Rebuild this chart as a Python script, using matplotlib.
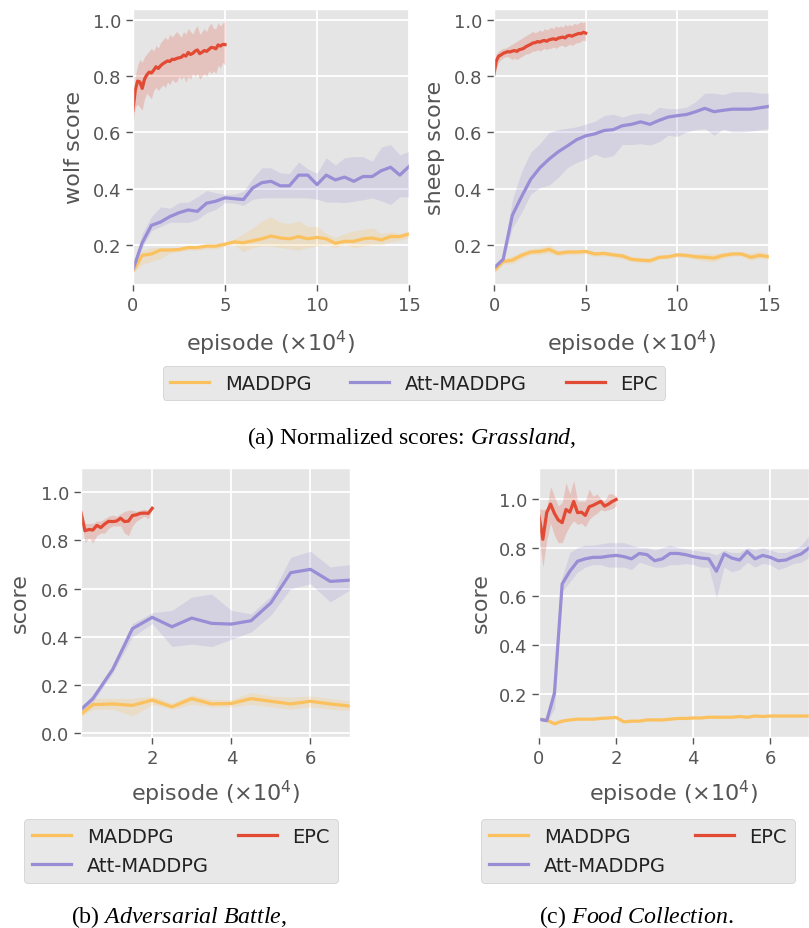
import numpy as np
import matplotlib
matplotlib.use("Agg")
import matplotlib.pyplot as plt

plt.style.use("ggplot")
plt.rcParams['font.family'] = ['DejaVu Sans']
plt.rcParams['mathtext.fontset'] = 'custom'
plt.rcParams['mathtext.rm'] = 'Liberation Serif'
plt.rcParams['mathtext.it'] = 'Liberation Serif:italic'

C_MADDPG = '#FBC15E'
C_ATT = '#988ED5'
C_EPC = '#E24A33'
labels = ['MADDPG', 'Att-MADDPG', 'EPC']

# ---------------- Grassland (wolf / sheep) ----------------
x_grass = np.linspace(0, 15, 31)
x_grass_epc = np.linspace(0, 5, 41)

wolf_att = [0.112, 0.207, 0.269, 0.281, 0.300, 0.314, 0.324, 0.319, 0.348, 0.355, 0.367, 0.364, 0.361,
            0.402, 0.421, 0.426, 0.410, 0.410, 0.448, 0.448, 0.414, 0.448, 0.431, 0.441, 0.426, 0.443,
            0.443, 0.464, 0.476, 0.448, 0.479]
wolf_att_hi = [0.12, 0.24, 0.30, 0.335, 0.33, 0.35, 0.352, 0.371, 0.393, 0.385, 0.38, 0.38, 0.39, 0.436,
               0.474, 0.474, 0.456, 0.454, 0.495, 0.47, 0.455, 0.51, 0.484, 0.51, 0.514, 0.514, 0.497,
               0.548, 0.557, 0.52, 0.533]
wolf_att_lo = [0.10, 0.19, 0.25, 0.265, 0.28, 0.28, 0.279, 0.29, 0.314, 0.326, 0.35, 0.348, 0.34, 0.362,
               0.367, 0.367, 0.367, 0.367, 0.367, 0.367, 0.362, 0.352, 0.352, 0.35, 0.355, 0.36, 0.367,
               0.356, 0.343, 0.371, 0.37]
wolf_mad = [0.105, 0.162, 0.167, 0.181, 0.181, 0.183, 0.19, 0.19, 0.195, 0.195, 0.202, 0.21, 0.207, 0.214,
            0.221, 0.231, 0.224, 0.221, 0.229, 0.221, 0.226, 0.221, 0.205, 0.212, 0.212, 0.221, 0.224,
            0.217, 0.229, 0.229, 0.238]
wolf_mad_hi = [0.11, 0.18, 0.19, 0.19, 0.19, 0.19, 0.195, 0.195, 0.2, 0.2, 0.21, 0.22, 0.24, 0.26, 0.285,
               0.299, 0.28, 0.275, 0.285, 0.265, 0.265, 0.24, 0.225, 0.24, 0.25, 0.255, 0.26, 0.24, 0.245,
               0.24, 0.25]
wolf_mad_lo = [0.1, 0.13, 0.14, 0.15, 0.17, 0.175, 0.18, 0.18, 0.185, 0.185, 0.195, 0.2, 0.175, 0.19, 0.195,
               0.195, 0.19, 0.185, 0.18, 0.19, 0.195, 0.2, 0.19, 0.2, 0.19, 0.195, 0.2, 0.2, 0.21, 0.215,
               0.225]
wolf_epc = [0.68, 0.752, 0.783, 0.78, 0.757, 0.79, 0.805, 0.815, 0.812, 0.822, 0.834, 0.828, 0.838, 0.845,
            0.85, 0.855, 0.853, 0.861, 0.86, 0.864, 0.866, 0.868, 0.876, 0.872, 0.885, 0.878, 0.882, 0.89,
            0.894, 0.881, 0.886, 0.892, 0.889, 0.896, 0.903, 0.902, 0.898, 0.912, 0.908, 0.914, 0.913]
wolf_epc_hi = [0.70, 0.80, 0.84, 0.86, 0.85, 0.87, 0.88, 0.89, 0.90, 0.89, 0.91, 0.90, 0.92, 0.93, 0.94,
               0.93, 0.95, 0.94, 0.95, 0.96, 0.95, 0.94, 0.96, 0.95, 0.97, 0.96, 0.95, 0.97, 0.98, 0.95,
               0.96, 0.97, 0.96, 0.98, 0.99, 0.97, 0.97, 0.99, 0.98, 0.99, 1.0]
wolf_epc_lo = [0.63, 0.69, 0.70, 0.69, 0.68, 0.72, 0.74, 0.73, 0.72, 0.75, 0.76, 0.75, 0.76, 0.77, 0.76,
               0.78, 0.77, 0.79, 0.78, 0.78, 0.80, 0.79, 0.80, 0.78, 0.80, 0.79, 0.81, 0.80, 0.81, 0.79,
               0.80, 0.81, 0.80, 0.82, 0.81, 0.82, 0.81, 0.84, 0.83, 0.85, 0.84]

sheep_att = [0.117, 0.148, 0.305, 0.371, 0.433, 0.474, 0.505, 0.531, 0.552, 0.574, 0.588, 0.595, 0.607,
             0.61, 0.624, 0.629, 0.638, 0.629, 0.643, 0.655, 0.66, 0.664, 0.674, 0.686, 0.674, 0.679,
             0.683, 0.683, 0.683, 0.688, 0.693]
sheep_att_hi = [0.12, 0.16, 0.36, 0.46, 0.53, 0.56, 0.60, 0.61, 0.615, 0.62, 0.63, 0.64, 0.66, 0.665,
                0.655, 0.665, 0.67, 0.665, 0.69, 0.685, 0.685, 0.69, 0.71, 0.74, 0.74, 0.735, 0.745,
                0.745, 0.745, 0.74, 0.74]
sheep_att_lo = [0.11, 0.14, 0.26, 0.314, 0.38, 0.404, 0.412, 0.44, 0.475, 0.493, 0.505, 0.523, 0.51,
                0.517, 0.557, 0.557, 0.56, 0.555, 0.567, 0.59, 0.586, 0.602, 0.61, 0.614, 0.59, 0.612,
                0.602, 0.602, 0.605, 0.61, 0.614]
sheep_mad = [0.107, 0.14, 0.145, 0.162, 0.174, 0.176, 0.183, 0.169, 0.174, 0.174, 0.176, 0.167, 0.169,
             0.164, 0.16, 0.148, 0.145, 0.143, 0.155, 0.157, 0.164, 0.162, 0.157, 0.155, 0.152, 0.162,
             0.167, 0.167, 0.155, 0.162, 0.157]
sheep_mad_hi = [0.115, 0.15, 0.16, 0.175, 0.185, 0.19, 0.2, 0.18, 0.183, 0.183, 0.185, 0.177, 0.178,
                0.173, 0.17, 0.158, 0.155, 0.153, 0.163, 0.165, 0.172, 0.17, 0.168, 0.17, 0.168, 0.172,
                0.175, 0.175, 0.17, 0.176, 0.168]
sheep_mad_lo = [0.1, 0.13, 0.132, 0.15, 0.165, 0.165, 0.17, 0.16, 0.165, 0.165, 0.168, 0.158, 0.16,
                0.155, 0.15, 0.14, 0.137, 0.135, 0.147, 0.15, 0.156, 0.154, 0.148, 0.142, 0.14, 0.152,
                0.159, 0.16, 0.145, 0.152, 0.148]
sheep_epc = [0.81, 0.855, 0.872, 0.876, 0.882, 0.885, 0.888, 0.887, 0.89, 0.892, 0.889, 0.895, 0.897,
             0.9, 0.906, 0.91, 0.914, 0.919, 0.92, 0.924, 0.922, 0.926, 0.928, 0.925, 0.93, 0.932, 0.934,
             0.931, 0.936, 0.938, 0.94, 0.937, 0.944, 0.946, 0.943, 0.947, 0.95, 0.953, 0.952, 0.957, 0.954]
sheep_epc_hi = [0.83, 0.88, 0.89, 0.895, 0.90, 0.90, 0.905, 0.91, 0.915, 0.92, 0.925, 0.93, 0.935, 0.94,
                0.945, 0.95, 0.955, 0.96, 0.955, 0.96, 0.965, 0.96, 0.97, 0.965, 0.97, 0.975, 0.97, 0.98,
                0.975, 0.98, 0.975, 0.985, 0.98, 0.985, 0.98, 0.99, 0.985, 0.99, 0.995, 0.99, 1.0]
sheep_epc_lo = [0.78, 0.83, 0.85, 0.86, 0.865, 0.87, 0.87, 0.865, 0.86, 0.865, 0.86, 0.865, 0.87, 0.875,
                0.88, 0.88, 0.885, 0.89, 0.89, 0.895, 0.89, 0.895, 0.9, 0.895, 0.9, 0.9, 0.905, 0.9, 0.905,
                0.91, 0.91, 0.905, 0.91, 0.915, 0.91, 0.915, 0.92, 0.92, 0.925, 0.93, 0.925]

# ---------------- Adversarial Battle ----------------
x_adv = [0.2, 0.5, 1.0, 1.5, 2.0, 2.5, 3.0, 3.5, 4.0, 4.5, 5.0, 5.5, 6.0, 6.5, 7.0]
x_adv_epc = np.linspace(0.2, 2.0, 19)
adv_att = [0.099, 0.144, 0.265, 0.434, 0.481, 0.442, 0.478, 0.456, 0.453, 0.467, 0.541, 0.666, 0.68, 0.63, 0.635]
adv_att_hi = [0.11, 0.16, 0.28, 0.455, 0.50, 0.51, 0.565, 0.578, 0.51, 0.495, 0.57, 0.73, 0.755, 0.69, 0.70]
adv_att_lo = [0.085, 0.13, 0.25, 0.40, 0.455, 0.36, 0.37, 0.36, 0.39, 0.42, 0.49, 0.60, 0.62, 0.545, 0.595]
adv_mad = [0.08, 0.119, 0.122, 0.116, 0.138, 0.11, 0.144, 0.122, 0.124, 0.144, 0.133, 0.122, 0.133, 0.122, 0.113]
adv_mad_hi = [0.09, 0.145, 0.145, 0.145, 0.155, 0.125, 0.16, 0.14, 0.14, 0.169, 0.155, 0.15, 0.155, 0.145, 0.135]
adv_mad_lo = [0.07, 0.1, 0.1, 0.072, 0.12, 0.1, 0.12, 0.11, 0.11, 0.12, 0.11, 0.1, 0.11, 0.1, 0.095]
adv_epc = [0.915, 0.84, 0.845, 0.843, 0.862, 0.853, 0.868, 0.879, 0.878, 0.88, 0.892, 0.878, 0.88, 0.903,
           0.906, 0.912, 0.913, 0.912, 0.933]
adv_epc_hi = [0.93, 0.87, 0.87, 0.87, 0.88, 0.88, 0.89, 0.9, 0.905, 0.9, 0.91, 0.92, 0.925, 0.925, 0.92,
              0.925, 0.93, 0.925, 0.935]
adv_epc_lo = [0.9, 0.79, 0.81, 0.79, 0.82, 0.83, 0.83, 0.85, 0.86, 0.86, 0.86, 0.83, 0.82, 0.86, 0.88,
              0.89, 0.9, 0.89, 0.93]

# ---------------- Food Collection ----------------
x_food = np.linspace(0, 7, 36)
x_food_epc = np.linspace(0, 2, 21)
food_att = [0.097, 0.091, 0.203, 0.651, 0.703, 0.744, 0.754, 0.76, 0.76, 0.765, 0.768, 0.763, 0.754, 0.776,
            0.771, 0.746, 0.754, 0.776, 0.776, 0.771, 0.763, 0.757, 0.754, 0.703, 0.774, 0.757, 0.749,
            0.784, 0.754, 0.768, 0.76, 0.746, 0.749, 0.763, 0.774, 0.798]
food_att_hi = [0.1, 0.1, 0.25, 0.68, 0.78, 0.8, 0.81, 0.81, 0.815, 0.82, 0.82, 0.82, 0.81, 0.8, 0.8, 0.79,
               0.8, 0.81, 0.8, 0.795, 0.79, 0.785, 0.78, 0.77, 0.79, 0.78, 0.78, 0.8, 0.79, 0.8, 0.79,
               0.78, 0.78, 0.79, 0.81, 0.85]
food_att_lo = [0.09, 0.085, 0.14, 0.62, 0.66, 0.7, 0.72, 0.73, 0.73, 0.72, 0.72, 0.72, 0.71, 0.74, 0.73,
               0.72, 0.72, 0.73, 0.73, 0.735, 0.73, 0.72, 0.72, 0.595, 0.72, 0.7, 0.71, 0.74, 0.72, 0.735,
               0.73, 0.71, 0.72, 0.735, 0.74, 0.76]
food_mad = [0.097, 0.094, 0.078, 0.089, 0.094, 0.097, 0.097, 0.097, 0.1, 0.102, 0.104, 0.086, 0.089, 0.089,
            0.094, 0.094, 0.094, 0.097, 0.1, 0.1, 0.102, 0.102, 0.105, 0.105, 0.105, 0.105, 0.108, 0.105,
            0.11, 0.108, 0.11, 0.11, 0.11, 0.11, 0.11, 0.11]
food_mad_hi = [0.1, 0.1, 0.085, 0.094, 0.098, 0.1, 0.1, 0.1, 0.104, 0.106, 0.108, 0.09, 0.093, 0.093, 0.098,
               0.098, 0.098, 0.1, 0.104, 0.104, 0.106, 0.106, 0.109, 0.109, 0.109, 0.109, 0.112, 0.109,
               0.114, 0.112, 0.114, 0.114, 0.114, 0.114, 0.114, 0.114]
food_mad_lo = [0.094, 0.088, 0.072, 0.084, 0.09, 0.094, 0.094, 0.094, 0.096, 0.098, 0.1, 0.082, 0.085,
               0.085, 0.09, 0.09, 0.09, 0.094, 0.096, 0.096, 0.098, 0.098, 0.101, 0.101, 0.101, 0.101,
               0.104, 0.101, 0.106, 0.104, 0.106, 0.106, 0.106, 0.106, 0.106, 0.106]
food_epc = [0.929, 0.834, 0.943, 0.978, 0.94, 0.913, 0.902, 0.956, 0.945, 0.989, 0.943, 0.945, 0.932,
            0.967, 0.973, 0.981, 0.989, 0.97, 0.978, 0.989, 0.997]
food_epc_hi = [0.96, 0.955, 0.96, 1.05, 1.01, 0.97, 0.985, 1.065, 1.02, 1.075, 0.99, 0.99, 0.99, 1.04,
               1.01, 1.02, 1.0, 0.99, 1.02, 1.02, 1.01]
food_epc_lo = [0.85, 0.72, 0.83, 0.90, 0.85, 0.82, 0.82, 0.86, 0.89, 0.91, 0.895, 0.90, 0.885, 0.915,
               0.93, 0.94, 0.955, 0.95, 0.955, 0.96, 0.97]

W, H = 809, 929
fig = plt.figure(figsize=(W / 100, H / 100), dpi=100)


def add_ax(l, t, r, b):
    return fig.add_axes([l / W, 1 - b / H, (r - l) / W, (b - t) / H])


def draw(ax, series):
    for x, m, lo, hi, c, lab in series:
        ax.fill_between(x, lo, hi, color=c, alpha=0.22, lw=0)
        ax.plot(x, m, color=c, lw=2.3, label=lab)


def style(ax, xlim, ylim, xticks, yticks, ylabel, xpad, ypad):
    ax.set_xlim(*xlim)
    ax.set_ylim(*ylim)
    ax.set_xticks(xticks)
    ax.set_yticks(yticks)
    ax.set_yticklabels([f'{v:.1f}' for v in yticks])
    ax.tick_params(labelsize=13, colors='#555555', length=5, width=1)
    ax.grid(True, color='white', lw=1.3)
    ax.set_xlabel(r'episode ($\times10^4$)', fontsize=16, color='#555555',
                  math_fontfamily='dejavusans', labelpad=xpad)
    ax.set_ylabel(ylabel, fontsize=16, color='#555555', labelpad=ypad)


ax1 = add_ax(133, 10, 409, 285)
draw(ax1, [(x_grass, wolf_mad, wolf_mad_lo, wolf_mad_hi, C_MADDPG, labels[0]),
           (x_grass, wolf_att, wolf_att_lo, wolf_att_hi, C_ATT, labels[1]),
           (x_grass_epc, wolf_epc, wolf_epc_lo, wolf_epc_hi, C_EPC, labels[2])])
style(ax1, (0, 15), (0.06, 1.04), [0, 5, 10, 15], [0.2, 0.4, 0.6, 0.8, 1.0], 'wolf score', 10, 6)

ax2 = add_ax(494, 10, 769, 285)
draw(ax2, [(x_grass, sheep_mad, sheep_mad_lo, sheep_mad_hi, C_MADDPG, labels[0]),
           (x_grass, sheep_att, sheep_att_lo, sheep_att_hi, C_ATT, labels[1]),
           (x_grass_epc, sheep_epc, sheep_epc_lo, sheep_epc_hi, C_EPC, labels[2])])
style(ax2, (0, 15), (0.06, 1.04), [0, 5, 10, 15], [0.2, 0.4, 0.6, 0.8, 1.0], 'sheep score', 10, 6)

ax3 = add_ax(81, 469, 350, 738)
draw(ax3, [(x_adv, adv_mad, adv_mad_lo, adv_mad_hi, C_MADDPG, labels[0]),
           (x_adv, adv_att, adv_att_lo, adv_att_hi, C_ATT, labels[1]),
           (x_adv_epc, adv_epc, adv_epc_lo, adv_epc_hi, C_EPC, labels[2])])
style(ax3, (0.2, 7), (-0.015, 1.1), [2, 4, 6], [0.0, 0.2, 0.4, 0.6, 0.8, 1.0], 'score', 8, 8)

ax4 = add_ax(539, 469, 809, 738)
draw(ax4, [(x_food, food_mad, food_mad_lo, food_mad_hi, C_MADDPG, labels[0]),
           (x_food, food_att, food_att_lo, food_att_hi, C_ATT, labels[1]),
           (x_food_epc, food_epc, food_epc_lo, food_epc_hi, C_EPC, labels[2])])
style(ax4, (0, 7), (0.024, 1.126), [0, 2, 4, 6], [0.2, 0.4, 0.6, 0.8, 1.0], 'score', 8, 6)

leg_kw = dict(fontsize=14, facecolor='#E8E8E8', edgecolor='#CCCCCC', framealpha=1.0,
              fancybox=True, loc='center')
handles, labs = ax1.get_legend_handles_labels()
l1 = fig.legend(handles, labs, ncol=3, bbox_to_anchor=(414 / W, 1 - 384 / H),
                columnspacing=2.0, **leg_kw)
h3, lab3 = ax3.get_legend_handles_labels()
l2 = fig.legend(h3, lab3, ncol=2, bbox_to_anchor=(181 / W, 1 - 852 / H), columnspacing=1.5, **leg_kw)
l3 = fig.legend(h3, lab3, ncol=2, bbox_to_anchor=(638 / W, 1 - 852 / H), columnspacing=1.5, **leg_kw)
for lg in (l1, l2, l3):
    for t in lg.get_texts():
        t.set_color('#222222')
    for ln in lg.get_lines():
        ln.set_linewidth(2.3)

cap_kw = dict(family='Liberation Serif', fontsize=17.2, ha='center', va='center', color='black')
fig.text(412 / W, 1 - 438 / H, r'(a) Normalized scores: $\mathit{Grassland}$,', **cap_kw)
fig.text(179 / W, 1 - 917 / H, r'(b) $\mathit{Adversarial\ Battle}$,', **cap_kw)
fig.text(636 / W, 1 - 917 / H, r'(c) $\mathit{Food\ Collection}$.', **cap_kw)

fig.savefig('out.png', dpi=100)
